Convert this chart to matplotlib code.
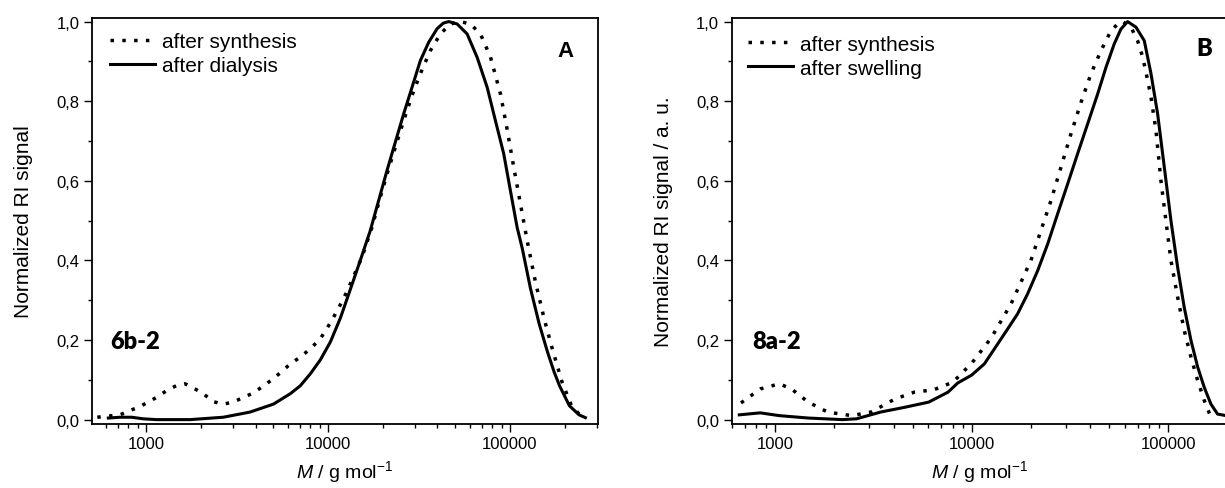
import matplotlib
matplotlib.use("Agg")
import matplotlib.pyplot as plt
from matplotlib.ticker import FixedLocator, LogLocator, MultipleLocator, FuncFormatter, NullFormatter
from matplotlib.lines import Line2D

plt.rcParams['font.family'] = ['Liberation Sans', 'DejaVu Sans']
plt.rcParams['mathtext.fontset'] = 'custom'
plt.rcParams['mathtext.rm'] = 'Liberation Sans'
plt.rcParams['mathtext.it'] = 'Liberation Sans:italic'

# panel A: 6b-2, after synthesis (dotted) and after dialysis (solid)
m_synth_a = [540, 720, 817, 908, 1009, 1145, 1300, 1463, 1640, 1862, 2066, 2345, 2661, 3021,
             3432, 3897, 4425, 4919, 5583, 6205, 7045, 7998, 9079, 10310, 11440, 12730,
             13270, 15380, 17460, 19150, 21130, 23450, 26070, 28970, 32200, 36550, 41500,
             47100, 53460, 60690, 68900, 78200, 88800, 96500, 105000, 114300, 124400,
             138300, 155000, 171000, 193600, 218000, 240000, 260000]
s_synth_a = [0.006, 0.012, 0.023, 0.031, 0.042, 0.056, 0.073, 0.085, 0.090, 0.077, 0.065, 0.045,
             0.039, 0.044, 0.056, 0.067, 0.085, 0.100, 0.121, 0.140, 0.157, 0.178, 0.203, 0.243,
             0.280, 0.322, 0.341, 0.408, 0.483, 0.550, 0.617, 0.684, 0.751, 0.814, 0.869, 0.927,
             0.969, 0.994, 1.0, 0.994, 0.969, 0.911, 0.818, 0.730, 0.634, 0.542, 0.450,
             0.345, 0.250, 0.178, 0.094, 0.035, 0.014, 0.005]

m_dial_a = [621, 720, 834, 966, 1145, 1745, 2661, 3733, 5020, 6205, 7045, 8000, 9079, 10310,
            11700, 13000, 15060, 17090, 18990, 21120, 23460, 26070, 28990, 32210, 35790,
            39800, 43000, 46100, 51300, 58200, 66100, 75000, 83300, 92500, 100700, 109600,
            117000, 129700, 145000, 161000, 175000, 187500, 212300, 240000, 260000]
s_dial_a = [0.004, 0.006, 0.006, 0.002, 0.0, 0.0, 0.006, 0.019, 0.039, 0.065, 0.085, 0.115, 0.150,
            0.195, 0.255, 0.315, 0.400, 0.475, 0.550, 0.626, 0.697, 0.768, 0.835, 0.902, 0.948,
            0.982, 0.996, 1.0, 0.994, 0.969, 0.910, 0.835, 0.751, 0.668, 0.575, 0.483,
            0.430, 0.330, 0.240, 0.170, 0.120, 0.085, 0.035, 0.012, 0.005]

# panel B: 8a-2, after synthesis (dotted) and after swelling (solid)
m_synth_b = [669, 838, 1049, 1209, 1471, 1846, 2448, 3070, 4070, 5100, 6400, 8020, 10000,
             12550, 15850, 20000, 22490, 25290, 28440, 31980, 35970, 40440, 45480, 51100,
             56350, 58600, 64600, 69800, 74100, 78600, 81700, 86600, 91800, 97300, 103200,
             111600, 120600, 130500, 141200, 152500, 164900]
s_synth_b = [0.042, 0.077, 0.090, 0.077, 0.044, 0.019, 0.010, 0.019, 0.052, 0.069, 0.075, 0.094, 0.142,
             0.205, 0.291, 0.400, 0.475, 0.550, 0.634, 0.718, 0.797, 0.869, 0.927, 0.977,
             0.998, 1.0, 0.986, 0.952, 0.911, 0.852, 0.810, 0.726, 0.600, 0.500, 0.400,
             0.308, 0.224, 0.157, 0.098, 0.048, 0.006]

m_swell_b = [656, 838, 1049, 1471, 2190, 2590, 3436, 4560, 6040, 7570, 8480, 10000, 11590,
             12530, 14640, 17120, 19240, 21640, 24330, 27350, 30750, 34570, 38880, 43710,
             48200, 53100, 57400, 62100, 68500, 75500, 81700, 88300, 95500, 103200, 111600,
             120600, 130500, 141200, 152500, 164900, 178200, 196800]
s_swell_b = [0.012, 0.017, 0.010, 0.004, 0.0, 0.002, 0.019, 0.031, 0.044, 0.069, 0.092, 0.112, 0.140,
             0.165, 0.215, 0.266, 0.316, 0.374, 0.441, 0.517, 0.592, 0.668, 0.743, 0.818,
             0.885, 0.944, 0.981, 1.0, 0.986, 0.952, 0.869, 0.768, 0.634, 0.500, 0.383,
             0.282, 0.199, 0.132, 0.081, 0.039, 0.014, 0.010]

x_ticks = [1000, 10000, 100000]

DOT = (0, (1, 2.4))
DOT_LW = 2.5
SOLID_LW = 2.2


def style_axis(ax, xlim, ylabel):
    ax.set_xscale('log')
    ax.set_xlim(*xlim)
    ax.set_ylim(-0.011, 1.009)
    ax.xaxis.set_major_locator(FixedLocator(x_ticks))
    ax.xaxis.set_major_formatter(FuncFormatter(lambda v, p: f"{int(v)}"))
    ax.xaxis.set_minor_locator(LogLocator(base=10, subs=range(2, 10)))
    ax.xaxis.set_minor_formatter(NullFormatter())
    ax.yaxis.set_major_locator(MultipleLocator(0.2))
    ax.yaxis.set_minor_locator(MultipleLocator(0.1))
    ax.yaxis.set_major_formatter(FuncFormatter(lambda v, p: f"{v:.1f}".replace('.', ',')))
    ax.tick_params(which='major', direction='out', length=6, width=1, labelsize=12, pad=3)
    ax.tick_params(which='minor', direction='out', length=3, width=1)
    for sp in ax.spines.values():
        sp.set_linewidth(1.3)
    ax.set_ylabel(ylabel, fontsize=15)
    ax.set_xlabel(r'$\mathit{M}$ / g mol$^{-1}$', fontsize=14)


def add_legend(ax, labels, anchor):
    handles = [Line2D([], [], color='black', lw=DOT_LW, linestyle=DOT),
               Line2D([], [], color='black', lw=SOLID_LW)]
    ax.legend(handles, labels, loc='upper left', bbox_to_anchor=anchor,
              frameon=False, fontsize=15, handlelength=2.16, handletextpad=0.34,
              labelspacing=0.24, borderpad=0, borderaxespad=0)


fig = plt.figure(figsize=(12.25, 4.89), dpi=100)

# left panel
ax1 = fig.add_axes([92 / 1225, 1 - 425 / 489, 506 / 1225, 406 / 489])
ax1.plot(m_synth_a, s_synth_a, color='black', lw=DOT_LW, linestyle=DOT)
ax1.plot(m_dial_a, s_dial_a, color='black', lw=SOLID_LW)
style_axis(ax1, (505, 305000), 'Normalized RI signal')
ax1.yaxis.set_label_coords(-0.116, 0.5)
ax1.xaxis.set_label_coords(0.5, -0.083)
add_legend(ax1, ['after synthesis', 'after dialysis'], (0.036, 0.966))
ax1.text(0.036, 0.18, '6b-2', transform=ax1.get_yaxis_transform(),
         fontsize=17, fontweight='heavy', family='Lato', va='baseline')
ax1.text(0.951, 0.914, 'A', transform=ax1.get_yaxis_transform(),
         fontsize=16, fontweight='bold', ha='right', va='baseline')

# right panel
ax2 = fig.add_axes([731.7 / 1225, 1 - 425 / 489, 495.7 / 1225, 406 / 489])
ax2.plot(m_synth_b, s_synth_b, color='black', lw=DOT_LW, linestyle=DOT)
ax2.plot(m_swell_b, s_swell_b, color='black', lw=SOLID_LW)
style_axis(ax2, (600, 200000), 'Normalized RI signal / a. u.')
ax2.yaxis.set_label_coords(-0.119, 0.5)
ax2.xaxis.set_label_coords(0.5, -0.083)
add_legend(ax2, ['after synthesis', 'after swelling'], (0.033, 0.959))
ax2.text(0.041, 0.18, '8a-2', transform=ax2.get_yaxis_transform(),
         fontsize=17, fontweight='heavy', family='Lato', va='baseline')
ax2.text(0.969, 0.917, 'B', transform=ax2.get_yaxis_transform(),
         fontsize=17, fontweight='heavy', family='Lato', ha='right', va='baseline')

fig.savefig('out.png', dpi=100)
